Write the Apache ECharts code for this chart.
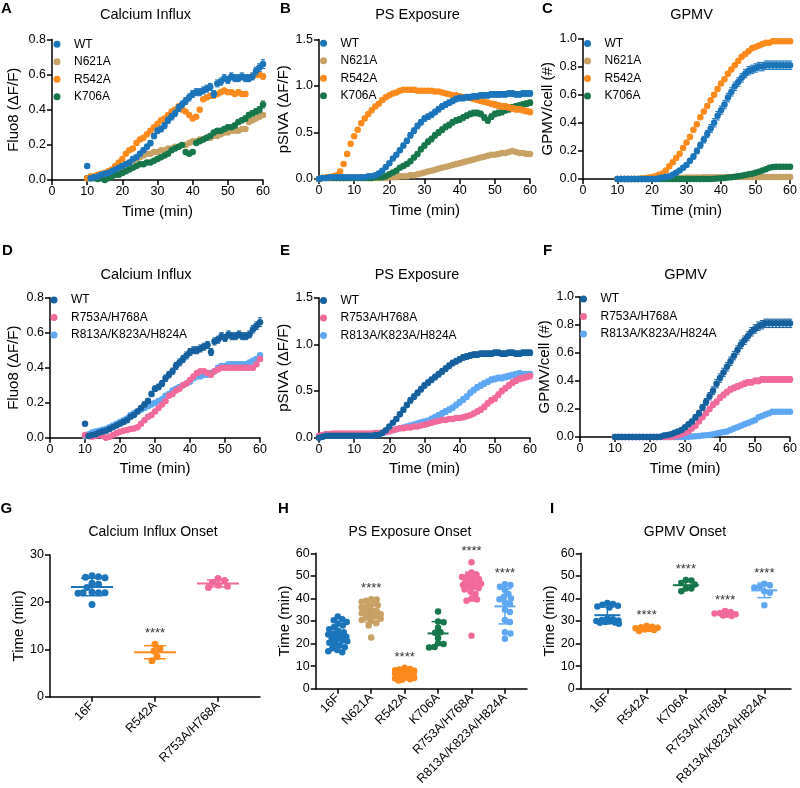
<!DOCTYPE html>
<html><head><meta charset="utf-8">
<script src="https://cdn.jsdelivr.net/npm/echarts@6/dist/echarts.min.js"></script>
<style>html,body{margin:0;padding:0;background:#fff}#c{width:800px;height:788px}</style>
</head><body><div id="c"></div>
<script>
// ---------------- time axes ----------------
const t10 = [10,11,12,13,14,15,16,17,18,19,20,21,22,23,24,25,26,27,28,29,30,31,32,33,34,35,36,37,38,39,40,41,42,43,44,45,46,47,48,49,50,51,52,53,54,55,56,57,58,59,60];
const t0 = [0,1,2,3,4,5,6,7,8,9].concat(t10);

// ---------------- A: Calcium influx ----------------
const A_WT = [0.08,0.01,0.015,0.02,0.03,0.035,0.04,0.05,0.06,0.07,
 0.08,0.09,0.10,0.12,0.13,0.15,0.17,0.19,0.21,0.25,
 0.28,0.29,0.31,0.34,0.36,0.38,0.41,0.43,0.45,0.47,
 0.49,0.50,0.50,0.51,0.52,0.53,0.49,0.55,0.56,0.58,
 0.57,0.59,0.58,0.58,0.59,0.58,0.58,0.59,0.62,0.64,0.66];
const A_WT_err = [0,.005,.005,.005,.005,.005,.005,.006,.006,.007,
 .008,.008,.009,.01,.01,.012,.012,.014,.015,.015,
 .016,.016,.017,.018,.018,.018,.02,.02,.02,.02,
 .02,.02,.02,.02,.02,.02,.02,.02,.02,.02,
 .02,.02,.02,.02,.02,.02,.02,.02,.022,.022,.025];
const A_N621A = [0.01,0.02,0.02,0.02,0.03,0.03,0.04,0.05,0.05,0.06,
 0.07,0.08,0.10,0.11,0.12,0.13,0.14,0.15,0.15,0.16,
 0.16,0.17,0.17,0.18,0.18,0.19,0.19,0.20,0.20,0.21,
 0.22,0.22,0.23,0.23,0.24,0.24,0.25,0.25,0.26,0.27,
 0.27,0.28,0.28,0.28,0.29,0.29,0.33,0.34,0.35,0.36,0.37];
const A_N621A_err = [.004,.004,.004,.004,.004,.004,.004,.005,.005,.005,
 .005,.006,.006,.006,.007,.007,.007,.008,.008,.008,
 .008,.008,.008,.008,.008,.008,.008,.008,.008,.008,
 .008,.008,.008,.008,.008,.008,.008,.008,.008,.008,
 .008,.008,.008,.008,.008,.008,.01,.01,.01,.01,.01];
const A_R542A = [0.01,0.02,0.02,0.03,0.035,0.04,0.05,0.06,0.08,0.10,
 0.12,0.15,0.17,0.18,0.21,0.23,0.24,0.26,0.28,0.30,
 0.32,0.34,0.35,0.37,0.39,0.40,0.42,0.40,0.39,0.37,
 0.35,0.36,0.40,0.46,0.47,0.48,0.48,0.49,0.50,0.51,
 0.50,0.50,0.49,0.50,0.49,0.49,0.58,0.59,0.60,0.60,0.59];
const A_R542A_err = [.004,.004,.004,.004,.005,.005,.005,.005,.006,.006,
 .008,.008,.008,.01,.01,.01,.01,.01,.01,.01,
 .01,.01,.01,.01,.01,.01,.01,.01,.01,.01,
 .01,.01,.01,.01,.012,.012,.012,.012,.012,.012,
 .012,.012,.012,.012,.012,.012,.015,.015,.015,.015,.015];
const A_K706A = [0.01,0.01,0.01,0.005,0.01,0.0,0.01,0.02,0.03,0.03,
 0.04,0.05,0.06,0.07,0.08,0.09,0.09,0.10,0.10,0.11,
 0.12,0.13,0.14,0.15,0.17,0.18,0.19,0.20,0.16,0.15,
 0.16,0.21,0.22,0.23,0.24,0.25,0.27,0.28,0.28,0.29,
 0.30,0.30,0.31,0.33,0.34,0.35,0.37,0.38,0.39,0.40,0.43];
const A_K706A_err = [.004,.004,.004,.004,.004,.004,.005,.005,.005,.005,
 .006,.006,.006,.007,.007,.008,.008,.008,.008,.008,
 .008,.008,.008,.009,.009,.009,.01,.01,.01,.01,
 .01,.01,.01,.01,.012,.012,.012,.012,.012,.012,
 .012,.012,.014,.014,.014,.015,.015,.015,.015,.018,.02];

// ---------------- B: PS exposure ----------------
const B_WT = [0.0,0.01,0.01,0.02,0.02,0.02,0.02,0.02,0.02,0.02,
 0.02,0.02,0.02,0.02,0.03,0.03,0.04,0.06,0.09,0.13,
 0.17,0.22,0.26,0.31,0.36,0.41,0.47,0.52,0.57,0.61,
 0.65,0.67,0.69,0.72,0.75,0.78,0.80,0.82,0.84,0.86,
 0.87,0.87,0.88,0.88,0.89,0.89,0.90,0.90,0.90,0.91,
 0.91,0.91,0.91,0.91,0.92,0.92,0.91,0.91,0.92,0.92,0.92];
const B_WT_err = [.003,.005,.005,.005,.005,.005,.005,.005,.005,.005,
 .005,.005,.005,.005,.006,.006,.008,.01,.012,.015,
 .018,.02,.022,.024,.026,.028,.03,.03,.03,.03,
 .03,.03,.03,.03,.03,.03,.03,.03,.03,.03,
 .03,.03,.03,.03,.03,.03,.03,.03,.03,.03,
 .03,.03,.03,.03,.03,.03,.03,.03,.03,.03,.03];
const B_N621A = [0.0,0.01,0.01,0.01,0.01,0.01,0.01,0.01,0.01,0.01,
 0.01,0.01,0.01,0.01,0.01,0.01,0.01,0.01,0.01,0.01,
 0.02,0.02,0.02,0.03,0.03,0.03,0.04,0.04,0.05,0.06,
 0.07,0.08,0.09,0.10,0.11,0.12,0.13,0.14,0.15,0.16,
 0.17,0.18,0.19,0.20,0.21,0.22,0.23,0.24,0.25,0.26,
 0.26,0.27,0.28,0.28,0.29,0.30,0.29,0.28,0.28,0.27,0.27];
const B_N621A_err = [.003,.004,.004,.004,.004,.004,.004,.004,.004,.004,
 .004,.004,.004,.004,.004,.004,.004,.004,.004,.004,
 .005,.005,.005,.005,.006,.006,.006,.007,.007,.008,
 .008,.008,.009,.009,.01,.01,.01,.01,.01,.01,
 .01,.01,.01,.012,.012,.012,.012,.012,.012,.012,
 .012,.012,.012,.012,.012,.012,.012,.012,.012,.012,.012];
const B_R542A = [0.0,0.01,0.02,0.02,0.03,0.04,0.08,0.16,0.27,0.38,
 0.46,0.53,0.60,0.65,0.70,0.74,0.78,0.81,0.85,0.88,
 0.90,0.92,0.93,0.95,0.96,0.96,0.96,0.96,0.95,0.95,
 0.95,0.95,0.95,0.94,0.94,0.93,0.92,0.91,0.90,0.90,
 0.89,0.88,0.88,0.87,0.86,0.85,0.84,0.83,0.82,0.81,
 0.80,0.79,0.78,0.78,0.77,0.76,0.75,0.75,0.74,0.73,0.72];
const B_R542A_err = [.003,.004,.005,.005,.006,.008,.01,.015,.02,.02,
 .02,.02,.02,.02,.02,.02,.02,.02,.02,.02,
 .02,.02,.02,.02,.02,.02,.02,.02,.02,.02,
 .02,.02,.02,.02,.02,.02,.02,.02,.02,.02,
 .025,.025,.025,.025,.025,.025,.025,.025,.025,.025,
 .03,.03,.03,.03,.03,.03,.03,.03,.03,.03,.03];
const B_K706A = [0.0,0.01,0.01,0.01,0.01,0.01,0.01,0.01,0.01,0.01,
 0.01,0.01,0.01,0.01,0.01,0.01,0.02,0.02,0.02,0.03,
 0.05,0.07,0.09,0.12,0.14,0.16,0.19,0.23,0.27,0.32,
 0.36,0.40,0.43,0.47,0.50,0.53,0.56,0.58,0.61,0.63,
 0.64,0.66,0.68,0.70,0.71,0.71,0.70,0.66,0.63,0.67,
 0.70,0.71,0.72,0.74,0.75,0.77,0.78,0.79,0.80,0.81,0.82];
const B_K706A_err = [.003,.004,.004,.004,.004,.004,.004,.004,.004,.004,
 .004,.004,.004,.004,.004,.004,.005,.005,.006,.008,
 .01,.012,.014,.016,.018,.02,.022,.024,.025,.026,
 .028,.03,.03,.03,.03,.03,.03,.03,.03,.03,
 .03,.03,.03,.03,.03,.03,.03,.03,.03,.03,
 .03,.03,.03,.03,.03,.03,.03,.03,.03,.03,.03];

// ---------------- C: GPMV ----------------
const C_WT = [0,0,0,0,0,0,0,0,0,0,
 0,0,0.005,0.01,0.015,0.02,0.03,0.045,0.06,0.08,
 0.10,0.13,0.16,0.20,0.24,0.28,0.32,0.36,0.40,0.45,
 0.49,0.53,0.58,0.62,0.66,0.69,0.72,0.75,0.77,0.78,
 0.79,0.80,0.80,0.81,0.81,0.81,0.81,0.81,0.81,0.81,0.81];
const C_WT_err = [0,0,0,0,0,0,0,0,0,0,
 0,0,.002,.003,.004,.005,.006,.008,.01,.012,
 .014,.016,.018,.02,.022,.024,.026,.028,.03,.03,
 .03,.03,.03,.03,.03,.03,.03,.03,.03,.03,
 .03,.03,.03,.03,.03,.03,.03,.03,.03,.03,.03];
const C_N621A = [0,0,0,0,0,0,0,0,0,0,
 0.002,0.003,0.004,0.005,0.005,0.006,0.007,0.008,0.008,0.009,
 0.01,0.01,0.01,0.011,0.011,0.012,0.012,0.012,0.013,0.013,
 0.013,0.013,0.014,0.014,0.014,0.014,0.015,0.015,0.015,0.015,
 0.015,0.015,0.015,0.015,0.015,0.015,0.015,0.015,0.015,0.015,0.015];
const C_N621A_err = [0,0,0,0,0,0,0,0,0,0,
 .002,.002,.002,.002,.002,.002,.002,.002,.002,.002,
 .003,.003,.003,.003,.003,.003,.003,.003,.003,.003,
 .003,.003,.003,.003,.003,.003,.003,.003,.003,.003,
 .003,.003,.003,.003,.003,.003,.003,.003,.003,.003,.003];
const C_R542A = [0,0,0,0,0,0,0,0.005,0.005,0.01,
 0.015,0.02,0.03,0.04,0.06,0.09,0.12,0.15,0.18,0.22,
 0.26,0.30,0.35,0.39,0.44,0.48,0.52,0.56,0.60,0.64,
 0.68,0.71,0.75,0.78,0.81,0.84,0.87,0.89,0.91,0.93,
 0.94,0.95,0.96,0.97,0.97,0.98,0.98,0.98,0.98,0.98,0.98];
const C_R542A_err = [0,0,0,0,0,0,0,.002,.002,.003,
 .004,.005,.006,.008,.01,.012,.014,.015,.015,.015,
 .015,.015,.015,.015,.015,.015,.015,.015,.015,.015,
 .015,.015,.015,.015,.015,.015,.015,.015,.015,.015,
 .012,.012,.012,.012,.012,.012,.012,.012,.012,.012,.012];
const C_K706A = [0,0,0,0,0,0,0,0,0,0,
 0,0,0,0,0,0,0,0,0,0,
 0,0,0,0,0,0,0,0,0.002,0.004,
 0.006,0.008,0.01,0.013,0.016,0.02,0.024,0.028,0.033,0.038,
 0.045,0.052,0.06,0.07,0.08,0.085,0.087,0.087,0.087,0.087,0.087];
const C_K706A_err = [0,0,0,0,0,0,0,0,0,0,
 0,0,0,0,0,0,0,0,0,0,
 0,0,0,0,0,0,0,0,.002,.002,
 .003,.003,.003,.004,.004,.005,.005,.005,.006,.006,
 .007,.007,.007,.008,.008,.008,.008,.008,.008,.008,.008];

// ---------------- D: Calcium influx (row 2) ----------------
const D_WT = A_WT, D_WT_err = A_WT_err;
const D_R753A = [0.015,0.01,0.006,0.01,0.015,0.01,0.0,0.005,0.015,0.025,
 0.034,0.04,0.044,0.05,0.053,0.06,0.08,0.10,0.12,0.13,
 0.15,0.17,0.19,0.21,0.24,0.25,0.27,0.28,0.30,0.31,
 0.33,0.35,0.37,0.38,0.38,0.37,0.36,0.38,0.39,0.40,
 0.40,0.40,0.40,0.40,0.40,0.40,0.40,0.40,0.40,0.42,0.45];
const D_R753A_err = [.004,.004,.004,.004,.004,.004,.004,.004,.005,.005,
 .005,.006,.006,.006,.007,.007,.008,.008,.008,.008,
 .008,.008,.009,.009,.01,.01,.01,.01,.01,.01,
 .01,.01,.01,.01,.01,.01,.01,.01,.01,.01,
 .01,.01,.01,.01,.01,.01,.01,.01,.01,.012,.012];
const D_R813A = [0.01,0.02,0.03,0.035,0.04,0.045,0.05,0.06,0.07,0.08,
 0.09,0.10,0.11,0.13,0.14,0.15,0.16,0.17,0.18,0.19,
 0.20,0.21,0.22,0.24,0.25,0.27,0.28,0.29,0.30,0.31,
 0.32,0.34,0.35,0.35,0.36,0.36,0.37,0.38,0.40,0.41,
 0.41,0.42,0.42,0.42,0.42,0.42,0.42,0.43,0.44,0.45,0.47];
const D_R813A_err = [.004,.004,.004,.004,.005,.005,.005,.005,.006,.006,
 .006,.006,.007,.007,.007,.008,.008,.008,.008,.008,
 .008,.008,.008,.009,.009,.009,.01,.01,.01,.01,
 .01,.01,.01,.01,.01,.01,.01,.01,.012,.012,
 .012,.012,.012,.012,.012,.012,.012,.012,.014,.014,.015];

// ---------------- E: PS exposure (row 2) ----------------
const E_WT = [0.0,0.01,0.02,0.02,0.02,0.02,0.02,0.02,0.02,0.02,
 0.02,0.02,0.02,0.02,0.02,0.02,0.03,0.03,0.05,0.08,
 0.12,0.16,0.20,0.25,0.30,0.35,0.40,0.44,0.48,0.52,
 0.56,0.59,0.62,0.65,0.68,0.71,0.74,0.77,0.80,0.82,
 0.84,0.86,0.87,0.88,0.89,0.89,0.90,0.90,0.90,0.90,
 0.91,0.91,0.90,0.90,0.91,0.91,0.90,0.90,0.91,0.91,0.91];
const E_WT_err = B_WT_err;
const E_R753A = [0.02,0.03,0.04,0.04,0.045,0.045,0.045,0.045,0.045,0.045,
 0.045,0.045,0.045,0.045,0.045,0.045,0.05,0.05,0.055,0.06,
 0.07,0.08,0.09,0.10,0.10,0.11,0.11,0.12,0.12,0.13,
 0.14,0.15,0.16,0.17,0.18,0.19,0.19,0.20,0.20,0.21,
 0.21,0.22,0.23,0.24,0.26,0.28,0.30,0.33,0.37,0.40,
 0.42,0.46,0.50,0.53,0.56,0.59,0.61,0.63,0.64,0.65,0.66];
const E_R753A_err = [.004,.004,.004,.004,.004,.004,.004,.004,.004,.004,
 .004,.004,.004,.004,.004,.004,.005,.005,.006,.008,
 .01,.012,.014,.016,.018,.02,.02,.02,.02,.02,
 .02,.02,.02,.02,.02,.02,.02,.02,.02,.02,
 .02,.02,.02,.022,.024,.026,.028,.03,.03,.03,
 .03,.03,.03,.03,.03,.03,.03,.03,.03,.03,.03];
const E_R813A = [0.0,0.01,0.02,0.02,0.02,0.02,0.02,0.02,0.02,0.02,
 0.02,0.02,0.02,0.02,0.02,0.02,0.03,0.04,0.05,0.06,
 0.07,0.08,0.09,0.10,0.11,0.12,0.13,0.14,0.15,0.16,
 0.17,0.18,0.20,0.22,0.24,0.26,0.28,0.30,0.32,0.35,
 0.38,0.41,0.44,0.48,0.51,0.54,0.56,0.58,0.60,0.62,
 0.63,0.64,0.64,0.65,0.66,0.67,0.68,0.69,0.68,0.68,0.68];
const E_R813A_err = [.004,.004,.004,.004,.004,.004,.004,.004,.004,.004,
 .004,.004,.004,.004,.004,.004,.005,.006,.008,.01,
 .012,.014,.016,.018,.02,.022,.024,.026,.028,.03,
 .03,.03,.03,.03,.03,.03,.03,.03,.03,.03,
 .03,.03,.03,.03,.03,.03,.03,.03,.03,.03,
 .03,.03,.03,.03,.03,.03,.03,.03,.03,.03,.03];

// ---------------- F: GPMV (row 2) ----------------
const F_WT = [0,0,0,0,0,0,0,0,0,0,
 0,0,0,0.002,0.01,0.015,0.02,0.03,0.04,0.05,
 0.07,0.09,0.11,0.14,0.17,0.21,0.25,0.29,0.33,0.38,
 0.42,0.46,0.50,0.54,0.58,0.62,0.66,0.69,0.72,0.75,
 0.77,0.79,0.80,0.81,0.81,0.81,0.81,0.81,0.81,0.81,0.81];
const F_WT_err = [0,0,0,0,0,0,0,0,0,0,
 0,0,0,.002,.003,.004,.005,.006,.008,.01,
 .012,.014,.016,.018,.02,.022,.024,.026,.028,.03,
 .03,.03,.03,.03,.03,.03,.03,.03,.03,.03,
 .03,.03,.03,.03,.03,.03,.03,.03,.03,.03,.03];
const F_R753A = [0,0,0,0,0,0,0,0,0,0,
 0,0,0,0,0,0,0,0.005,0.01,0.02,
 0.03,0.04,0.06,0.08,0.11,0.14,0.17,0.20,0.23,0.25,
 0.28,0.30,0.32,0.34,0.35,0.36,0.37,0.38,0.39,0.39,
 0.40,0.40,0.41,0.41,0.41,0.41,0.41,0.41,0.41,0.41,0.41];
const F_R753A_err = [0,0,0,0,0,0,0,0,0,0,
 0,0,0,0,0,0,0,.002,.003,.004,
 .005,.006,.008,.01,.012,.014,.016,.018,.02,.02,
 .02,.02,.02,.02,.02,.02,.02,.02,.02,.02,
 .02,.02,.02,.02,.02,.02,.02,.02,.02,.02,.02];
const F_R813A = [0,0,0,0,0,0,0,0,0,0,
 0,0,0,0,0,0,0,0,0,0,
 0,0.002,0.004,0.006,0.008,0.01,0.012,0.015,0.02,0.025,
 0.03,0.035,0.04,0.05,0.06,0.07,0.08,0.09,0.10,0.11,
 0.12,0.14,0.15,0.16,0.17,0.18,0.18,0.18,0.18,0.18,0.18];
const F_R813A_err = [0,0,0,0,0,0,0,0,0,0,
 0,0,0,0,0,0,0,0,0,0,
 0,.001,.001,.002,.002,.002,.003,.003,.003,.004,
 .004,.004,.005,.005,.005,.006,.006,.006,.007,.007,
 .007,.008,.008,.008,.008,.008,.008,.008,.008,.008,.008];

// ---------------- G/H/I: onset dot plots ----------------
const G_cats = ['16F','R542A','R753A/H768A'];
const G_stars = ['','****',''];
const G_16F = [25.6,25.4,25.2,25.3,24.0,23.8,23.1,22.0,22.0,21.9,22.0,22.1,19.5];
const G_R542A = [11.1,10.2,9.7,8.5,7.6];
const G_R753A = [25.0,24.6,24.2,23.6,23.1,23.4];

const H_cats = ['16F','N621A','R542A','K706A','R753A/H768A','R813A/K823A/H824A'];
const H_stars = ['','****','****','','****','****'];
const H_16F = [32.0,30.8,30.4,29.6,28.9,28.0,27.2,26.4,25.6,25.0,24.4,24.0,23.5,23.0,22.4,22.0,21.4,21.0,20.4,20.0,19.2,18.4,18.0,17.2,16.6,16.2];
const H_N621A = [39.7,39.5,39.0,38.5,37.5,37.0,36.5,36.0,35.0,34.5,34.0,33.5,33.0,32.5,32.0,31.5,31.0,30.5,30.0,29.0,28.0,22.7];
const H_R542A = [9.3,8.8,8.5,8.2,8.0,7.8,7.5,7.3,7.0,6.8,6.6,6.4,6.2,6.0,5.8,5.6,5.4,5.2,5.0,4.8,4.5,4.2,4.0,3.7];
const H_K706A = [34.2,29.8,29.5,27.0,25.0,24.8,22.5,20.2,19.8,18.5,18.3];
const H_R753A = [56.0,51.5,50.5,50.0,49.5,49.0,48.5,48.0,47.5,47.0,46.5,46.0,45.5,45.0,44.5,44.0,43.0,42.0,40.0,39.5,39.0,23.5];
const H_R813A = [46.3,46.0,45.2,43.8,42.0,40.8,40.0,39.6,38.2,37.5,35.0,34.0,30.5,29.6,25.0,24.5,22.2];

const I_cats = ['16F','R542A','K706A','R753A/H768A','R813A/K823A/H824A'];
const I_stars = ['','****','****','****','****'];
const I_16F = [38.0,37.6,37.2,36.8,36.4,36.0,31.2,30.8,30.5,30.2,30.0,29.8,29.6,29.4,29.2,28.8];
const I_R542A = [27.8,27.5,27.2,27.0,26.8,26.5,26.2,26.0,25.6];
const I_K706A = [48.2,47.9,46.8,46.2,44.4,44.4,43.2];
const I_R753A = [34.5,34.0,33.6,33.3,33.0,32.8,32.5,32.2];
const I_R813A = [46.5,45.8,45.3,44.8,43.2,42.5,37.0];

// ---------------- styling ----------------
const FONT = "'Liberation Sans', Arial, Helvetica, sans-serif";
const COL = {wt:'#1b75bb', tan:'#c9a165', orange:'#fc8a1c', green:'#16774a',
  wt2:'#15619f', pink:'#f26a9b', lblue:'#5ea8f3'};

const timePanels = [
 {grid:{left:52,top:39.5,width:211,height:140.5}, t:t10, ymax:0.8, yint:0.2, yname:'Fluo8 (\u0394F/F)', ngap:30.5, leg:{left:48.5,top:33.2},
  s:[['WT',COL.wt,A_WT,A_WT_err],['N621A',COL.tan,A_N621A,A_N621A_err],['R542A',COL.orange,A_R542A,A_R542A_err],['K706A',COL.green,A_K706A,A_K706A_err]],
  draw:[1,3,2,0]},
 {grid:{left:319,top:39.5,width:211,height:139.5}, t:t0, ymax:1.5, yint:0.5, yname:'pSIVA (\u0394F/F)', ngap:21, leg:{left:315,top:32.2},
  s:[['WT',COL.wt,B_WT,B_WT_err],['N621A',COL.tan,B_N621A,B_N621A_err],['R542A',COL.orange,B_R542A,B_R542A_err],['K706A',COL.green,B_K706A,B_K706A_err]],
  draw:[1,3,2,0]},
 {grid:{left:583,top:38.5,width:211,height:140.5}, t:t10, ymax:1.0, yint:0.2, yname:'GPMV/cell (#)', ngap:26.5, leg:{left:579,top:32.5},
  s:[['WT',COL.wt,C_WT,C_WT_err],['N621A',COL.tan,C_N621A,C_N621A_err],['R542A',COL.orange,C_R542A,C_R542A_err],['K706A',COL.green,C_K706A,C_K706A_err]],
  draw:[1,3,2,0]},
 {grid:{left:50,top:297.7,width:210,height:140}, t:t10, ymax:0.8, yint:0.2, yname:'Fluo8 (\u0394F/F)', ngap:28.5, leg:{left:45.5,top:289},
  s:[['WT',COL.wt2,D_WT,D_WT_err],['R753A/H768A',COL.pink,D_R753A,D_R753A_err],['R813A/K823A/H824A',COL.lblue,D_R813A,D_R813A_err]],
  draw:[2,1,0]},
 {grid:{left:319,top:297.7,width:211,height:140}, t:t0, ymax:1.5, yint:0.5, yname:'pSIVA (\u0394F/F)', ngap:21, leg:{left:315,top:289.5},
  s:[['WT',COL.wt2,E_WT,E_WT_err],['R753A/H768A',COL.pink,E_R753A,E_R753A_err],['R813A/K823A/H824A',COL.lblue,E_R813A,E_R813A_err]],
  draw:[2,1,0]},
 {grid:{left:580,top:296.7,width:210,height:140.3}, t:t10, ymax:1.0, yint:0.2, yname:'GPMV/cell (#)', ngap:27, leg:{left:575,top:288},
  s:[['WT',COL.wt2,F_WT,F_WT_err],['R753A/H768A',COL.pink,F_R753A,F_R753A_err],['R813A/K823A/H824A',COL.lblue,F_R813A,F_R813A_err]],
  draw:[2,1,0]}
];

const dotPanels = [
 {grid:{left:50,top:555,width:210,height:141.7}, xmin:-0.667, xmax:2.667, ymax:30, cats:G_cats, stars:G_stars,
  groups:[[G_16F,COL.wt],[G_R542A,COL.orange],[G_R753A,COL.pink]], size:7, d:6.3, maxW:14, mw:21, cw:11},
 {grid:{left:315.7,top:553.3,width:211.3,height:141}, xmin:-0.66, xmax:5.66, ymax:60, cats:H_cats, stars:H_stars,
  groups:[[H_16F,COL.wt],[H_N621A,COL.tan],[H_R542A,COL.orange],[H_K706A,COL.green],[H_R753A,COL.pink],[H_R813A,COL.lblue]], size:6.5, d:5.2, maxW:9.5, mw:10.5, cw:6.5},
 {grid:{left:580.7,top:553.3,width:210.3,height:141}, xmin:-0.68, xmax:4.68, ymax:60, cats:I_cats, stars:I_stars,
  groups:[[I_16F,COL.wt],[I_R542A,COL.orange],[I_K706A,COL.green],[I_R753A,COL.pink],[I_R813A,COL.lblue]], size:6.5, d:5.3, maxW:11.5, mw:13, cw:7}
];

const titles = [
 ['Calcium Influx',145.5,15,14.5],['PS Exposure',417.5,15,14.5],['GPMV',691.5,15,14.5],
 ['Calcium Influx',146,275,14.5],['PS Exposure',417,275,14.5],['GPMV',685.5,275,14.5],
 ['Calcium Influx Onset',153,532,14],['PS Exposure Onset',410,532,14],['GPMV Onset',685,532,14]
];
const letters = [['A',1,8.5],['B',280,8.5],['C',542,8.5],['D',2,250.5],['E',280,250.5],['F',543,250.5],['G',0.5,509],['H',278,509],['I',550,509]];

// ---------------- helpers ----------------
const axisCommon = {
  axisLine:{onZero:false, lineStyle:{color:'#000', width:1.5}},
  axisTick:{length:5, lineStyle:{color:'#000', width:1.5}},
  splitLine:{show:false}
};
function errRender(params, api){
  const x = api.value(0), lo = api.value(1), hi = api.value(2);
  const a = api.coord([x, hi]), b = api.coord([x, lo]);
  const st = {stroke: api.visual('color'), lineWidth: 1};
  const w = 2.2;
  return {type:'group', children:[
    {type:'line', shape:{x1:a[0],y1:a[1],x2:b[0],y2:b[1]}, style:st},
    {type:'line', shape:{x1:a[0]-w,y1:a[1],x2:a[0]+w,y2:a[1]}, style:st},
    {type:'line', shape:{x1:b[0]-w,y1:b[1],x2:b[0]+w,y2:b[1]}, style:st}]};
}
function meanSD(mw, cw){
  return function(params, api){
    const k = api.value(0), m = api.value(1), sd = api.value(2);
    const c = api.coord([k,m]), tp = api.coord([k,m+sd]), bt = api.coord([k,m-sd]);
    const col = api.visual('color');
    return {type:'group', children:[
      {type:'line', shape:{x1:c[0]-mw,y1:c[1],x2:c[0]+mw,y2:c[1]}, style:{stroke:col,lineWidth:2}},
      {type:'line', shape:{x1:c[0],y1:tp[1],x2:c[0],y2:bt[1]}, style:{stroke:col,lineWidth:1.5}},
      {type:'line', shape:{x1:c[0]-cw,y1:tp[1],x2:c[0]+cw,y2:tp[1]}, style:{stroke:col,lineWidth:1.5}},
      {type:'line', shape:{x1:c[0]-cw,y1:bt[1],x2:c[0]+cw,y2:bt[1]}, style:{stroke:col,lineWidth:1.5}}]};
  };
}
function starRender(params, api){
  const c = api.coord([api.value(0), api.value(1)]);
  return {type:'text', x:c[0], y:c[1]-17, style:{text:'****', fill:'#333', font:'13px ' + FONT, align:'center', textAlign:'center', verticalAlign:'top', textVerticalAlign:'top'}};
}
// beeswarm within a maximum half-width: dots with close values sit side by side, overlapping when crowded
function swarm(vals, pxY, d, maxW){
  const order = vals.map((v,i)=>i).sort((a,b)=>vals[b]-vals[a]);
  const placed = [], off = [];
  order.forEach(i=>{
    const y = vals[i]*pxY;
    let best = 0, bestD = -1;
    for (let k=0;;k++){
      const c = k===0 ? 0 : (k%2 ? 1 : -1)*Math.ceil(k/2)*0.5;
      if (Math.abs(c) > maxW) break;
      const md = placed.reduce((m,p)=>Math.min(m, Math.hypot(p[0]-c, p[1]-y)), Infinity);
      if (md >= d) { best = c; break; }
      if (md > bestD) { bestD = md; best = c; }
    }
    placed.push([best,y]); off[i] = best;
  });
  return off;
}

// ---------------- build option ----------------
const option = {animation:false, textStyle:{fontFamily:FONT}, grid:[], xAxis:[], yAxis:[], series:[], legend:[], graphic:[]};
const tickLabel = {color:'#000', fontSize:12.5, fontFamily:FONT};
const nameStyle = {color:'#000', fontSize:15, fontFamily:FONT};

timePanels.forEach((p,i)=>{
  option.grid.push(p.grid);
  option.xAxis.push(Object.assign({gridIndex:i, type:'value', min:0, max:60, interval:10,
    name:'Time (min)', nameLocation:'middle', nameGap:24, nameTextStyle:nameStyle,
    axisLabel:Object.assign({margin:5}, tickLabel)}, axisCommon));
  option.yAxis.push(Object.assign({gridIndex:i, type:'value', min:0, max:p.ymax, interval:p.yint,
    name:p.yname, nameLocation:'middle', nameGap:p.ngap, nameTextStyle:nameStyle,
    axisLabel:Object.assign({margin:6, formatter:v=>v.toFixed(1)}, tickLabel)}, axisCommon));
  p.draw.forEach((si,order)=>{
    const [name,color,vals,errs] = p.s[si];
    option.series.push({type:'custom', name:name+' error', xAxisIndex:i, yAxisIndex:i, silent:true,
      itemStyle:{color:color}, encode:{x:0, y:[1,2]}, renderItem:errRender, z:2+2*order,
      data:p.t.map((x,k)=>[x, vals[k]-errs[k], vals[k]+errs[k]])});
    option.series.push({type:'scatter', name:name, xAxisIndex:i, yAxisIndex:i, silent:true,
      symbol:'circle', symbolSize:6.5, itemStyle:{color:color, opacity:1}, z:3+2*order,
      data:p.t.map((x,k)=>[x, vals[k]])});
  });
  option.legend.push({left:p.leg.left, top:p.leg.top, orient:'vertical', itemWidth:24, itemHeight:7, itemGap:5.5,
    icon:'circle', selectedMode:false, textStyle:{color:'#000', fontSize:12, fontFamily:FONT},
    data:p.s.map(s=>({name:s[0], itemStyle:{color:s[1]}}))});
});

dotPanels.forEach((p,j)=>{
  const i = timePanels.length + j;
  const pxCat = p.grid.width/(p.xmax-p.xmin), pxY = p.grid.height/p.ymax;
  const idx = p.cats.map((c,k)=>k);
  option.grid.push(p.grid);
  option.xAxis.push(Object.assign({gridIndex:i, type:'value', min:p.xmin, max:p.xmax,
    axisLabel:Object.assign({customValues:idx, rotate:45, margin:7, formatter:v=>p.cats[Math.round(v)]}, tickLabel)},
    axisCommon, {axisTick:{customValues:idx, length:5, lineStyle:{color:'#000', width:1.5}}}));
  option.yAxis.push(Object.assign({gridIndex:i, type:'value', min:0, max:p.ymax, interval:10,
    name:'Time (min)', nameLocation:'middle', nameGap:23.5, nameTextStyle:nameStyle,
    axisLabel:Object.assign({margin:6}, tickLabel)}, axisCommon));
  p.groups.forEach(([vals,color],k)=>{
    const off = swarm(vals, pxY, p.d, p.maxW);
    option.series.push({type:'scatter', name:p.cats[k]+' dots', xAxisIndex:i, yAxisIndex:i, silent:true,
      symbol:'circle', symbolSize:p.size, itemStyle:{color:color, opacity:1}, z:2,
      data:vals.map((v,n)=>[k + off[n]/pxCat, v])});
    const mean = vals.reduce((a,b)=>a+b,0)/vals.length;
    const sd = Math.sqrt(vals.reduce((a,b)=>a+(b-mean)*(b-mean),0)/(vals.length-1));
    option.series.push({type:'custom', name:p.cats[k]+' mean', xAxisIndex:i, yAxisIndex:i, silent:true,
      itemStyle:{color:color}, encode:{x:0,y:1}, renderItem:meanSD(p.mw,p.cw), z:4,
      data:[[k, mean, sd]]});
    if (p.stars[k]) {
      option.series.push({type:'custom', name:p.cats[k]+' sig', xAxisIndex:i, yAxisIndex:i, silent:true,
        encode:{x:0,y:1}, renderItem:starRender, z:5, data:[[k, Math.max.apply(null, vals)]]});
    }
  });
});

titles.forEach(([t,x,y,fs])=>option.graphic.push({type:'text', x:x, y:y, silent:true,
  style:{text:t, fill:'#000', font:fs+'px '+FONT, align:'center', textAlign:'center', verticalAlign:'middle', textVerticalAlign:'middle'}}));
letters.forEach(([t,x,y])=>option.graphic.push({type:'text', x:x, y:y, silent:true,
  style:{text:t, fill:'#000', font:'bold 15px '+FONT, align:'left', textAlign:'left', verticalAlign:'middle', textVerticalAlign:'middle'}}));

const chart = echarts.init(document.getElementById('c'), null, {renderer:'canvas'});
chart.setOption(option);
</script></body></html>
